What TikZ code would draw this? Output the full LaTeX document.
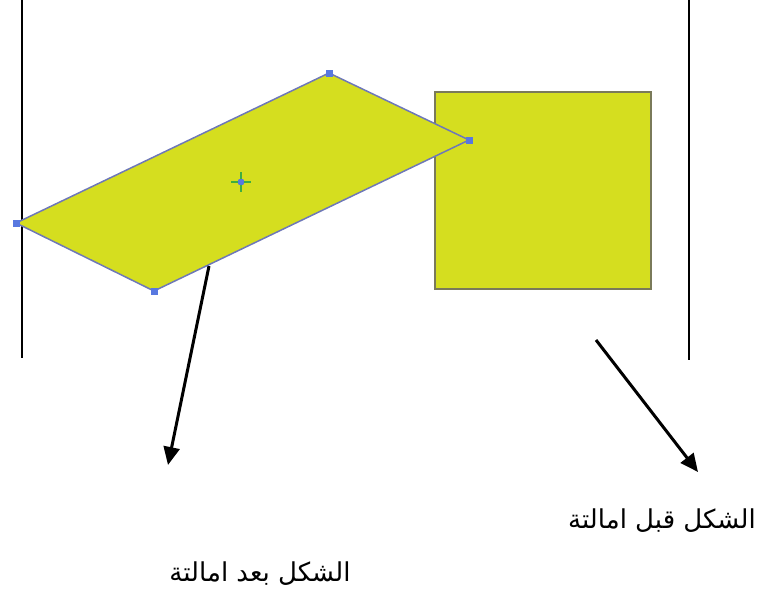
\documentclass[tikz,border=0pt]{standalone}
\usepackage{fontspec}
\newfontfamily\arabicfont[Script=Arabic]{DejaVu Sans}
\TeXXeTstate=1
\usepackage{tikz}
\usetikzlibrary{calc,arrows.meta,positioning}
\definecolor{shape-fill}{HTML}{D5DE1F}
\definecolor{shape-edge}{HTML}{6E78B8}
\definecolor{box-edge}{HTML}{7A7A5A}
\definecolor{handle}{HTML}{5878E0}
\definecolor{pivot}{HTML}{3FAE3F}

\begin{document}
\begin{tikzpicture}[x=1pt, y=-1pt, thick,
    pointer/.style={-{Triangle[length=18pt,width=16pt]}, line width=3pt},
    handle/.style={fill=handle, minimum size=7pt, inner sep=0pt},
    label/.style={font=\arabicfont\fontsize{26}{30}\selectfont}]
    \useasboundingbox (0,0) rectangle (776,592);
    % guide lines
    \coordinate (L1) at (22,0);
    \coordinate (L2) at (22,358);
    \coordinate (R1) at (689,0);
    \coordinate (R2) at (689,360);
    \draw[line width=2pt] (L1) -- (L2);
    \draw[line width=2pt] (R1) -- (R2);
    % original square
    \node[draw=box-edge, fill=shape-fill, line width=1.6pt, minimum width=216pt, minimum height=197pt, anchor=north west] (S) at (434,91) {};
    % sheared shape
    \coordinate (P1) at (16,223);
    \coordinate (P2) at (329,73);
    \coordinate (P3) at (469,140);
    \coordinate (P4) at (154,291);
    \fill[shape-fill] (P1) -- (P2) -- (P3) -- (P4) -- cycle;
    \draw[shape-edge, line width=1.5pt] (P1) -- (P2) -- (P3) -- (P4) -- cycle;
    \node[handle] at (P1) {};
    \node[handle] at (P2) {};
    \node[handle] at (P3) {};
    \node[handle] at (P4) {};
    \node[circle, fill=handle, minimum size=7pt, inner sep=0pt] (C) at (241,182) {};
    \draw[pivot, line width=1.5pt] ($(C)+(-10,0)$) -- ($(C)+(10,0)$);
    \draw[pivot, line width=1.5pt] ($(C)+(0,-10)$) -- ($(C)+(0,10)$);
    \node[circle, fill=handle, minimum size=6pt, inner sep=0pt] at (C) {};
    % labels
    \node[label] (after) at (260,574) {\beginR الشكل بعد امالتة\endR};
    \node[label] (before) at (662,521) {\beginR الشكل قبل امالتة\endR};
    \coordinate (A1) at (209,266);
    \coordinate (A2) at (168,465);
    \coordinate (B1) at (596,340);
    \coordinate (B2) at (698,472);
    \draw[pointer] (A1) -- (A2);
    \draw[pointer] (B1) -- (B2);
\end{tikzpicture}
\end{document}
